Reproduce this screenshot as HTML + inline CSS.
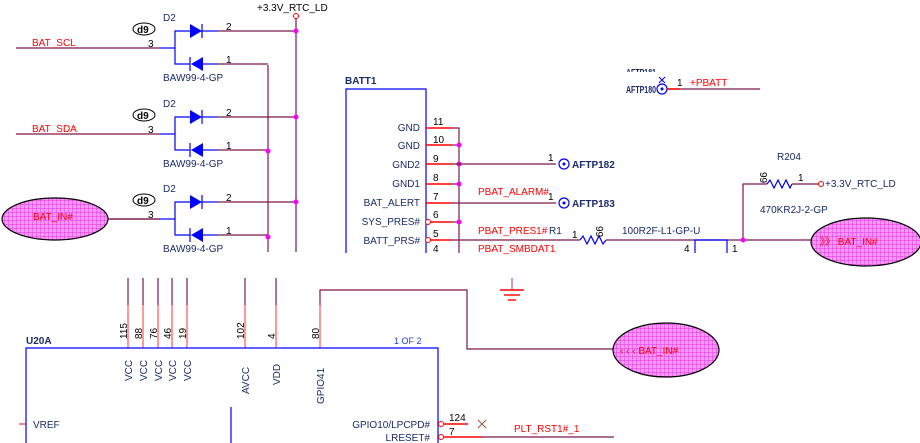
<!DOCTYPE html>
<html><head><meta charset="utf-8"><style>
html,body{margin:0;padding:0;background:#fff;}
svg{display:block;font-family:"Liberation Sans",sans-serif;}
.m{stroke:#7a1848;stroke-width:1.2;fill:none}
.r{stroke:#ff0000;stroke-width:1.6;fill:none}
.b{stroke:#0000ff;stroke-width:1.2;fill:none}
.t{fill:#1a2a6a;font-size:10px}
.k{fill:#000;font-size:10px}
.rd{fill:#ff0000;font-size:10px}
.d{fill:#ff00ff}
</style></head><body>
<svg width="920" height="443" viewBox="0 0 920 443">
<defs>
<pattern id="p" width="4" height="4" patternUnits="userSpaceOnUse"><rect width="4" height="4" fill="#f49af4"/><path d="M0 0H4M0 0V4" stroke="#e030e0" stroke-width="0.9"/></pattern>
</defs>
<text x="257" y="11" class="k" font-size="9">+3.3V_RTC_LD</text>
<circle cx="296" cy="16" r="2.5" fill="none" stroke="#f00"/>
<line x1="296" y1="18" x2="296" y2="252" class="m"/>
<line x1="268" y1="65" x2="268" y2="252" class="m" stroke-width="2"/>
<g id="dg">
<text x="163" y="21" class="t">D2</text>
<ellipse cx="144" cy="29" rx="11" ry="6" fill="#fff" stroke="#000"/>
<text x="137" y="33" class="k" font-size="9" font-weight="bold">d9</text>
<line x1="16" y1="48" x2="160" y2="48" class="m"/>
<text x="148" y="47" class="k" font-size="9">3</text>
<line x1="160" y1="48" x2="175" y2="48" class="b"/>
<polyline points="190,31 175,31 175,64 190,64" class="b"/>
<polygon points="190,24 190,38 202,31" fill="#0000ff"/><line x1="202" y1="24" x2="202" y2="38" class="b"/>
<polygon points="203,57 203,71 191,64" fill="#0000ff"/><line x1="190" y1="57" x2="190" y2="71" class="b"/>
<line x1="202" y1="31" x2="218" y2="31" class="b"/><line x1="218" y1="31" x2="296" y2="31" class="m"/>
<line x1="203" y1="64" x2="218" y2="64" class="b"/><line x1="218" y1="64" x2="268" y2="64" class="m"/>
<text x="226" y="30" class="k" font-size="9">2</text><text x="226" y="63" class="k" font-size="9">1</text>
<text x="163" y="81" class="t" font-size="9">BAW99-4-GP</text>
</g>
<text x="32" y="46" class="rd" font-size="9">BAT_SCL</text>
<use href="#dg" y="86"/>
<text x="32" y="132" class="rd" font-size="9">BAT_SDA</text>
<use href="#dg" y="171"/>
<rect x="0" y="188" width="120" height="30" fill="#fff"/>
<line x1="110" y1="219" x2="160" y2="219" class="m"/>
<ellipse cx="55" cy="219" rx="53" ry="21" fill="url(#p)" stroke="#000" stroke-width="1.2"/>
<text x="33" y="220" class="rd" font-size="9">BAT_IN#</text>
<circle cx="296" cy="31" r="2.5" class="d"/><circle cx="296" cy="117" r="2.5" class="d"/><circle cx="296" cy="202" r="2.5" class="d"/>
<circle cx="268" cy="151" r="2.5" class="d"/><circle cx="268" cy="237" r="2.5" class="d"/>

<text x="345" y="84" class="t" font-weight="bold" font-size="10">BATT1</text>
<polyline points="346,253 346,89 426,89 426,253" class="b" stroke-width="1.5"/>
<g font-size="10">
<text x="420" y="131" class="t" text-anchor="end">GND</text>
<text x="420" y="149" class="t" text-anchor="end">GND</text>
<text x="420" y="168" class="t" text-anchor="end">GND2</text>
<text x="420" y="187" class="t" text-anchor="end">GND1</text>
<text x="420" y="206" class="t" text-anchor="end">BAT_ALERT</text>
<text x="420" y="225" class="t" text-anchor="end">SYS_PRES#</text>
<text x="420" y="244" class="t" text-anchor="end">BATT_PRS#</text>
</g>
<g font-size="9" class="k">
<text x="433" y="125">11</text><text x="433" y="143">10</text><text x="433" y="162">9</text><text x="433" y="181">8</text><text x="433" y="200">7</text><text x="433" y="218">6</text><text x="433" y="237">5</text><text x="433" y="252">4</text>
</g>
<g class="r">
<line x1="426" y1="128" x2="452" y2="128"/><line x1="426" y1="145" x2="452" y2="145"/><line x1="426" y1="164" x2="452" y2="164"/><line x1="426" y1="184" x2="452" y2="184"/><line x1="426" y1="203" x2="452" y2="203"/><line x1="430" y1="222" x2="452" y2="222"/><line x1="430" y1="240" x2="452" y2="240"/>
</g>
<circle cx="428" cy="222" r="2.5" fill="#fff" stroke="#f00"/><circle cx="428" cy="240" r="2.5" fill="#fff" stroke="#f00"/>
<polyline points="452,128 459,128 459,253" class="m"/>
<line x1="452" y1="145" x2="459" y2="145" class="m"/><line x1="452" y1="184" x2="459" y2="184" class="m"/><line x1="452" y1="222" x2="459" y2="222" class="m"/>
<circle cx="459" cy="145" r="2.5" class="d"/><circle cx="459" cy="164" r="2.5" class="d"/><circle cx="459" cy="184" r="2.5" class="d"/><circle cx="459" cy="222" r="2.5" class="d"/>
<line x1="452" y1="164" x2="556" y2="164" class="m"/><line x1="452" y1="203" x2="556" y2="203" class="m" stroke-width="1.8"/>
<text x="548" y="161" class="k" font-size="9">1</text><text x="548" y="200" class="k" font-size="9">1</text>
<circle cx="564" cy="164" r="5" fill="#fff" stroke="#00f" stroke-width="1.2"/><circle cx="564" cy="164" r="1.5" fill="#00f"/>
<circle cx="564" cy="203" r="5" fill="#fff" stroke="#00f" stroke-width="1.2"/><circle cx="564" cy="203" r="1.5" fill="#00f"/>
<text x="572" y="168" class="t" font-size="9" font-weight="bold">AFTP182</text>
<text x="572" y="207" class="t" font-size="9" font-weight="bold">AFTP183</text>
<text x="478" y="195" class="rd" font-size="9">PBAT_ALARM#</text>
<text x="478" y="234" class="rd" font-size="9">PBAT_PRES1#</text>
<text x="478" y="252" class="rd" font-size="9">PBAT_SMBDAT1</text>
<text x="549" y="234" class="t" font-size="9">R1</text>
<line x1="452" y1="240" x2="580" y2="240" class="m" stroke-width="1.6"/>
<text x="572" y="238" class="k" font-size="9">1</text>
<polyline points="580,240 583,236 587,244 591,236 595,244 599,236 603,244 606,240" fill="none" stroke="#00f" stroke-width="1.2"/>
<text x="614" y="232" class="k" font-size="9" transform="rotate(90 608 220)">99</text>
<text x="622" y="234" class="t" font-size="9">100R2F-L1-GP-U</text>
<line x1="606" y1="240" x2="812" y2="240" class="m" stroke-width="1.6"/>
<polyline points="695,253 695,240 727,240 727,253" class="b"/>
<text x="684" y="252" class="k" font-size="9">4</text><text x="732" y="252" class="k" font-size="9">1</text>
<polyline points="743,240 743,184 767,184" class="m"/>
<circle cx="743" cy="240" r="2.5" class="d"/>
<polyline points="767,184 770,180 774,188 778,180 782,188 786,180 790,188 792,184" fill="none" stroke="#00f" stroke-width="1.2"/>
<line x1="792" y1="184" x2="818" y2="184" class="m"/>
<text x="798" y="181" class="k" font-size="9">1</text>
<circle cx="821" cy="184" r="2.5" fill="#fff" stroke="#f00"/>
<text x="825" y="187" class="t" font-size="8">+3.3V_RTC_LD</text>
<text x="777" y="160" class="t" font-size="9">R204</text>
<text x="764" y="172" class="k" font-size="9" transform="rotate(90 762 170)">99</text>
<text x="760" y="213" class="t" font-size="9">470KR2J-2-GP</text>
<ellipse cx="866" cy="242" rx="55" ry="24" fill="url(#p)" stroke="#000" stroke-width="1.2"/>
<text x="820" y="245" class="rd" font-size="9">》》 BAT_IN#</text>
<text x="626" y="76" class="t" font-size="9" font-weight="bold" textLength="30" lengthAdjust="spacingAndGlyphs">AFTP181</text>
<rect x="620" y="72" width="50" height="8" fill="#fff"/>
<text x="626" y="93" class="t" font-size="9" font-weight="bold" textLength="30" lengthAdjust="spacingAndGlyphs">AFTP180</text>
<circle cx="662" cy="89" r="5" fill="#fff" stroke="#00f" stroke-width="1.2"/><circle cx="662" cy="89" r="1.5" fill="#00f"/>
<path d="M659 77 L665 83 M665 77 L659 83" stroke="#00f"/>
<line x1="667" y1="89" x2="680" y2="89" class="r"/><line x1="680" y1="89" x2="760" y2="89" class="m" stroke-width="1.6"/>
<text x="677" y="86" class="k" font-size="9">1</text>
<text x="690" y="86" class="rd" font-size="9">+PBATT</text>

<g class="m">
<line x1="128" y1="278" x2="128" y2="305"/><line x1="143" y1="278" x2="143" y2="305"/><line x1="158" y1="278" x2="158" y2="305"/><line x1="172" y1="278" x2="172" y2="305"/><line x1="187" y1="278" x2="187" y2="305"/>
<line x1="245" y1="278" x2="245" y2="305"/><line x1="276" y1="278" x2="276" y2="305"/>
<polyline points="320,305 320,290 467,290 467,349 613,349"/>
</g>
<g stroke="#ff3030" stroke-width="1">
<line x1="128" y1="305" x2="128" y2="348"/><line x1="143" y1="305" x2="143" y2="348"/><line x1="158" y1="305" x2="158" y2="348"/><line x1="172" y1="305" x2="172" y2="348"/><line x1="187" y1="305" x2="187" y2="348"/>
<line x1="245" y1="305" x2="245" y2="348"/><line x1="276" y1="305" x2="276" y2="348"/><line x1="320" y1="305" x2="320" y2="348"/>
</g>
<g class="k" font-size="9">
<text transform="translate(127,339) rotate(-90)">115</text>
<text transform="translate(142,339) rotate(-90)">88</text>
<text transform="translate(157,339) rotate(-90)">76</text>
<text transform="translate(171,339) rotate(-90)">46</text>
<text transform="translate(186,339) rotate(-90)">19</text>
<text transform="translate(244,339) rotate(-90)">102</text>
<text transform="translate(275,339) rotate(-90)">4</text>
<text transform="translate(319,339) rotate(-90)">80</text>
</g>
<g class="t" font-size="10">
<text transform="translate(132,381) rotate(-90)">VCC</text>
<text transform="translate(147,381) rotate(-90)">VCC</text>
<text transform="translate(162,381) rotate(-90)">VCC</text>
<text transform="translate(176,381) rotate(-90)">VCC</text>
<text transform="translate(191,381) rotate(-90)">VCC</text>
<text transform="translate(249,394) rotate(-90)">AVCC</text>
<text transform="translate(280,385) rotate(-90)">VDD</text>
<text transform="translate(324,404) rotate(-90)">GPIO41</text>
</g>
<polyline points="26,443 26,348 438,348 438,443" class="b" stroke-width="1.5"/>
<text x="26" y="344" class="t" font-weight="bold" font-size="10">U20A</text>
<text x="394" y="344" fill="#2040e0" font-size="9">1 OF 2</text>
<line x1="19" y1="424" x2="26" y2="424" stroke="#f00"/>
<text x="33" y="428" class="t" font-size="10">VREF</text>
<line x1="231" y1="407" x2="231" y2="443" class="b"/>
<text x="430" y="428" class="t" font-size="10" text-anchor="end">GPIO10/LPCPD#</text>
<text x="430" y="441" class="t" font-size="10" text-anchor="end">LRESET#</text>
<circle cx="441" cy="424" r="2.5" fill="#fff" stroke="#f00"/><circle cx="441" cy="437" r="2.5" fill="#fff" stroke="#f00"/>
<line x1="444" y1="424" x2="468" y2="424" class="r"/>
<text x="449" y="421" class="k" font-size="9">124</text>
<path d="M478 420 L486 428 M486 420 L478 428" stroke="#8a5a3a"/>
<line x1="444" y1="437" x2="482" y2="437" class="r"/><line x1="482" y1="437" x2="614" y2="437" class="m" stroke-width="1.6"/>
<text x="449" y="435" class="k" font-size="9">7</text>
<text x="514" y="432" class="rd" font-size="10">PLT_RST1#_1</text>
<line x1="512" y1="278" x2="512" y2="290" stroke="#c03060"/>
<line x1="500" y1="290" x2="524" y2="290" stroke="#f00" stroke-width="1.4"/>
<line x1="504" y1="295" x2="520" y2="295" stroke="#f00" stroke-width="1.4"/>
<line x1="508" y1="300" x2="516" y2="300" stroke="#f00" stroke-width="1.4"/>
<ellipse cx="666" cy="350" rx="53" ry="27" fill="url(#p)" stroke="#000" stroke-width="1.2"/>
<text x="620" y="354" class="rd" font-size="10">‹ ‹ ‹ BAT_IN#</text>
</svg>
</body></html>
